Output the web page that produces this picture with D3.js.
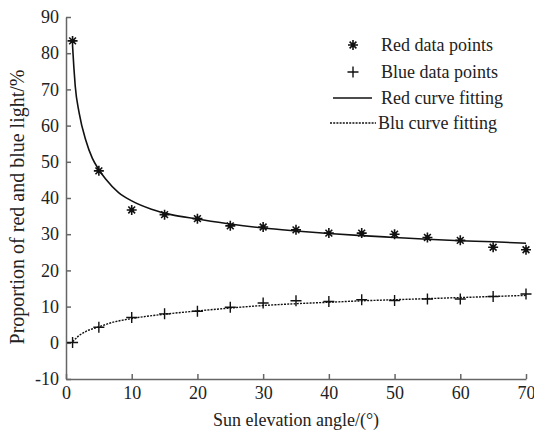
<!DOCTYPE html>
<html>
<head>
<meta charset="utf-8">
<script src="https://cdn.jsdelivr.net/npm/d3@7"></script>
<style>
  body { margin: 0; background: #fff; }
  svg text { font-family: "Liberation Serif", "Times New Roman", serif; fill: #222; }
  .axis path, .axis line { stroke: #666; stroke-width: 1.5; }
</style>
</head>
<body>
<div id="chart"></div>
<script>
// sun elevation angles of the measurements
var angles = [1, 5, 10, 15, 20, 25, 30, 35, 40, 45, 50, 55, 60, 65, 70];
var red_points = [83.4, 47.5, 36.7, 35.4, 34.3, 32.3, 32.0, 31.2, 30.3, 30.3, 30.0, 29.1, 28.3, 26.4, 25.7];
var blue_points = [0.1, 4.3, 7.0, 8.0, 8.7, 9.8, 11.0, 11.6, 11.4, 11.9, 11.7, 12.1, 12.1, 12.8, 13.5];

// fitted curves
var fit_x = [1, 1.2, 1.4, 2, 3, 4, 5, 6, 8, 10, 13, 16, 20, 25, 30, 35, 40, 45, 50, 55, 60, 65, 70];
var red_fit = [82, 76, 71, 63.5, 56, 51, 47.8, 45.3, 41.5, 39.2, 36.9, 35.4, 34.2, 32.8, 31.7, 30.9, 30.2, 29.6, 29.1, 28.6, 28.2, 27.9, 27.5];
var blue_fit_x = [1, 2, 3, 5, 7, 10, 15, 20, 25, 30, 35, 40, 45, 50, 55, 60, 65, 70];
var blue_fit = [0.3, 2, 3.1, 4.4, 5.6, 6.7, 7.9, 8.8, 9.6, 10.3, 10.8, 11.2, 11.6, 11.9, 12.2, 12.5, 12.8, 13.1];

var x_ticks = [0, 10, 20, 30, 40, 50, 60, 70];
var y_ticks = [-10, 0, 10, 20, 30, 40, 50, 60, 70, 80, 90];

var legend_labels = ["Red data points", "Blue data points", "Red curve fitting", "Blu curve fitting"];

var width = 534, height = 432,
    font = '"Liberation Serif", "Times New Roman", serif',
    font_size = '18px';

var svg = d3.select('#chart')
    .append('svg')
    .attr('width', width)
    .attr('height', height);

var x = d3.scaleLinear().domain([0, 70]).range([66, 526]);
var y = d3.scaleLinear().domain([-10, 90]).range([379, 17]);

function plain(d) { return String(d); }

svg.append('g')
  .attr('class', 'axis')
  .attr('transform', 'translate(0,' + y(-10) + ')')
  .call(d3.axisBottom(x).tickValues(x_ticks).tickFormat(plain)
        .tickSizeInner(-5).tickSizeOuter(0).tickPadding(7))
  .selectAll('text')
  .style('font-family', font)
  .style('font-size', font_size)
  .attr('fill', '#222');

svg.append('g')
  .attr('class', 'axis')
  .attr('transform', 'translate(' + x(0) + ',0)')
  .call(d3.axisLeft(y).tickValues(y_ticks).tickFormat(plain)
        .tickSizeInner(-5).tickSizeOuter(0).tickPadding(7))
  .selectAll('text')
  .style('font-family', font)
  .style('font-size', font_size)
  .attr('fill', '#222');

svg.append('text')
  .attr('x', (x(0) + x(70)) / 2)
  .attr('y', 426)
  .attr('text-anchor', 'middle')
  .style('font-size', font_size)
  .text('Sun elevation angle/(°)');

svg.append('text')
  .attr('transform', 'translate(24,207) rotate(-90)')
  .attr('text-anchor', 'middle')
  .style('font-size', '20px')
  .text('Proportion of red and blue light/%');

// curves
var red_line = d3.line()
  .x(function(d, i) { return x(fit_x[i]); })
  .y(function(d) { return y(d); })
  .curve(d3.curveMonotoneX);

var blue_line = d3.line()
  .x(function(d, i) { return x(blue_fit_x[i]); })
  .y(function(d) { return y(d); })
  .curve(d3.curveMonotoneX);

svg.append('path')
  .attr('d', red_line(red_fit))
  .attr('fill', 'none')
  .attr('stroke', '#111')
  .attr('stroke-width', 1.6);

svg.append('path')
  .attr('d', blue_line(blue_fit))
  .attr('fill', 'none')
  .attr('stroke', '#111')
  .attr('stroke-width', 1.4)
  .attr('stroke-dasharray', '2,1.2');

// markers
function star(g, cx, cy) {
  var r = 5, s = 3.4;
  g.append('path')
    .attr('d', 'M' + (cx - r) + ',' + cy + 'H' + (cx + r) +
               'M' + cx + ',' + (cy - r) + 'V' + (cy + r) +
               'M' + (cx - s) + ',' + (cy - s) + 'L' + (cx + s) + ',' + (cy + s) +
               'M' + (cx - s) + ',' + (cy + s) + 'L' + (cx + s) + ',' + (cy - s))
    .attr('stroke', '#111')
    .attr('stroke-width', 1.6);
  g.append('circle')
    .attr('cx', cx).attr('cy', cy).attr('r', 2.2)
    .attr('fill', '#111');
}

function plus(g, cx, cy) {
  var r = 5.5;
  g.append('path')
    .attr('d', 'M' + (cx - r) + ',' + cy + 'H' + (cx + r) +
               'M' + cx + ',' + (cy - r) + 'V' + (cy + r))
    .attr('stroke', '#111')
    .attr('stroke-width', 1.4);
}

var marks = svg.append('g');
red_points.forEach(function(d, i) { star(marks, x(angles[i]), y(d)); });
blue_points.forEach(function(d, i) { plus(marks, x(angles[i]), y(d)); });

// legend
var legend = svg.append('g');
var ly = [45, 72, 98, 123];
legend_labels.forEach(function(label, i) {
  legend.append('text')
    .attr('x', i == 3 ? 378 : 381)
    .attr('y', ly[i])
    .attr('dy', '0.35em')
    .style('font-size', font_size)
    .text(label);
});
star(legend, 353, ly[0]);
plus(legend, 353, ly[1]);
legend.append('line')
  .attr('x1', 333).attr('x2', 372).attr('y1', ly[2]).attr('y2', ly[2])
  .attr('stroke', '#111').attr('stroke-width', 1.6);
legend.append('line')
  .attr('x1', 330).attr('x2', 376).attr('y1', ly[3]).attr('y2', ly[3])
  .attr('stroke', '#111').attr('stroke-width', 1.4)
  .attr('stroke-dasharray', '2,1.2');
</script>
</body>
</html>
